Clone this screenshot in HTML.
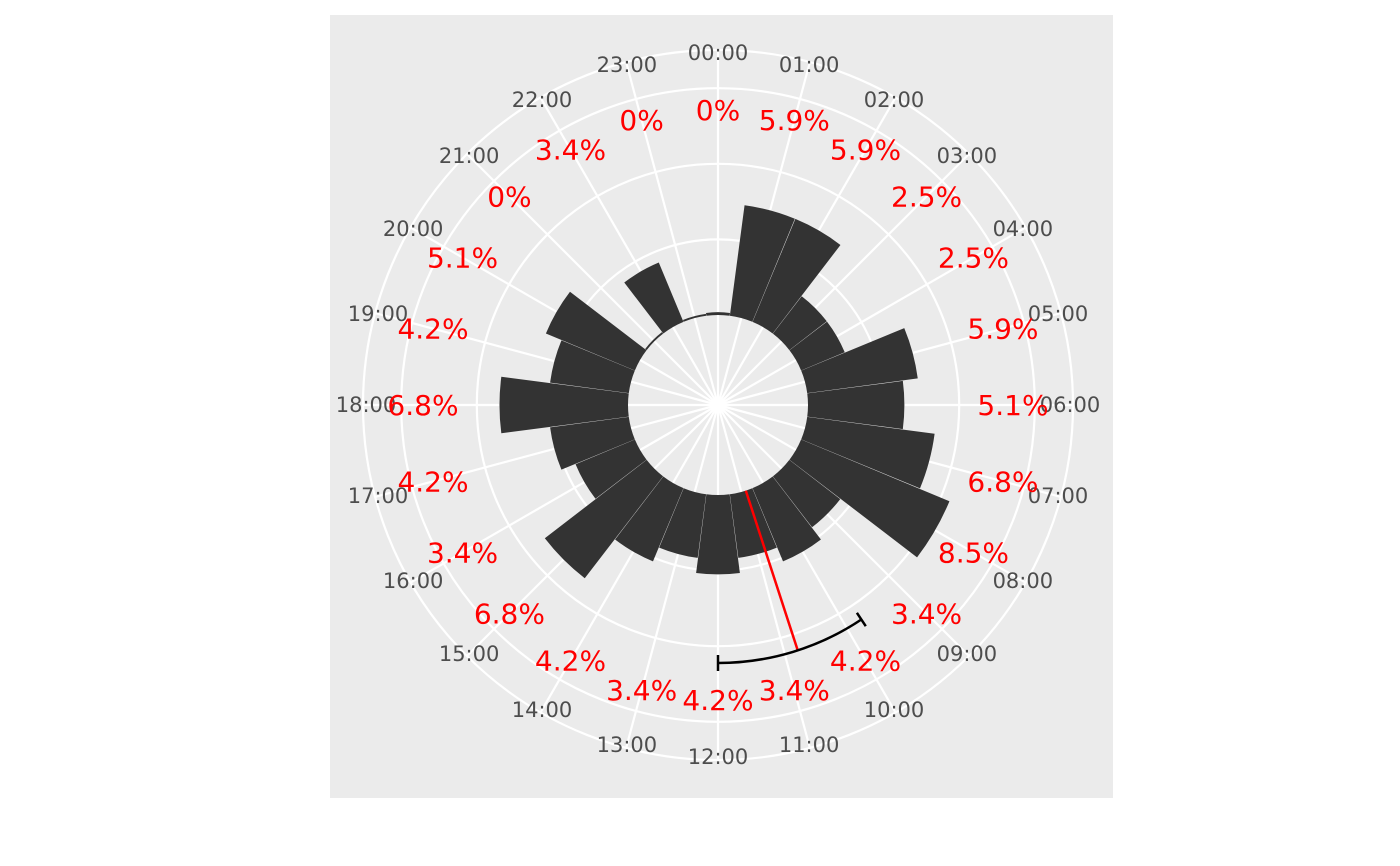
<!DOCTYPE html>
<html><head><meta charset="utf-8"><style>
body{margin:0;background:#fff;}
svg{display:block;font-family:"DejaVu Sans","Liberation Sans",sans-serif;}
</style></head><body>
<svg id="chart" width="1400" height="866" viewBox="0 0 1400 866" xmlns="http://www.w3.org/2000/svg">
<rect x="330" y="15" width="783" height="783" fill="#ebebeb"/>
<g id="grid"></g>
<g id="bars"></g>
<g id="ann"></g>
<g id="labels"></g>
</svg>
<script>
const hours = ["00:00","01:00","02:00","03:00","04:00","05:00","06:00","07:00","08:00","09:00","10:00","11:00","12:00","13:00","14:00","15:00","16:00","17:00","18:00","19:00","20:00","21:00","22:00","23:00"];
const values = [0.15,5.9,5.9,2.5,2.5,5.9,5.1,6.8,8.5,3.4,4.2,3.4,4.2,3.4,4.2,6.8,3.4,4.2,6.8,4.2,5.1,0.1,3.4,0.1];
const valueLabels = ["0%","5.9%","5.9%","2.5%","2.5%","5.9%","5.1%","6.8%","8.5%","3.4%","4.2%","3.4%","4.2%","3.4%","4.2%","6.8%","3.4%","4.2%","6.8%","4.2%","5.1%","0%","3.4%","0%"];
const gridValues = [4,8,12];
const meanHour = 10.8;
const rangeStart = 9.75, rangeEnd = 12;

const CX=718, CY=405, R0=90, K=18.9, ROUT=355;
const NS="http://www.w3.org/2000/svg";
const rScale = v => R0 + K*v;
const ang = h => h/24*2*Math.PI;
const pt = (h,r) => [CX + r*Math.sin(ang(h)), CY - r*Math.cos(ang(h))];
function mk(tag, attrs, parent){const e=document.createElementNS(NS,tag);for(const k in attrs)e.setAttribute(k,attrs[k]);parent.appendChild(e);return e;}
const grid=document.getElementById('grid'), bars=document.getElementById('bars'), ann=document.getElementById('ann'), labels=document.getElementById('labels');

gridValues.forEach(g=>{
  const c=mk('circle',{cx:CX,cy:CY,r:rScale(g),fill:'none',stroke:'#fff','stroke-width':2.2},grid);
  
  
});
const oc=mk('circle',{cx:CX,cy:CY,r:ROUT,fill:'none',stroke:'#fff','stroke-width':2.2},grid);


hours.forEach((h,i)=>{
  const [x,y]=pt(i,ROUT);
  const l=mk('line',{x1:CX,y1:CY,x2:x,y2:y,stroke:'#fff','stroke-width':2.2},grid);
  
  
});

values.forEach((v,i)=>{
  const a0=i-0.495, a1=i+0.495, ro=rScale(v);
  const p1=pt(a0,R0),p2=pt(a0,ro),p3=pt(a1,ro),p4=pt(a1,R0);
  const d=`M${p1} L${p2} A${ro},${ro} 0 0 1 ${p3} L${p4} A${R0},${R0} 0 0 0 ${p1} Z`;
  const p=mk('path',{d:d,fill:'#333333'},bars);
  
  
});

const m1=pt(meanHour,R0), m2=pt(meanHour,257);
const ml=mk('line',{x1:m1[0],y1:m1[1],x2:m2[0],y2:m2[1],stroke:'#ff0000','stroke-width':2.5},ann);


const RA=258, s=pt(rangeStart,RA), e=pt(rangeEnd,RA);
const arc=mk('path',{d:`M${s} A${RA},${RA} 0 0 1 ${e}`,fill:'none',stroke:'#000','stroke-width':2.5},ann);


[rangeStart,rangeEnd].forEach(h=>{
  const a=pt(h,RA-8), b=pt(h,RA+8);
  const c=mk('line',{x1:a[0],y1:a[1],x2:b[0],y2:b[1],stroke:'#000','stroke-width':2.5},ann);
  
  
});

hours.forEach((h,i)=>{
  const [x,y]=pt(i,352);
  const t=mk('text',{x:x,y:y+7,'text-anchor':'middle','font-size':21,fill:'#4d4d4d'},labels);
  t.textContent=h;
  
  
  const [x2,y2]=pt(i,295);
  const t2=mk('text',{x:x2,y:y2+10,'text-anchor':'middle','font-size':28,fill:'#ff0000'},labels);
  t2.textContent=valueLabels[i];
  
  
});
</script>
</body></html>
